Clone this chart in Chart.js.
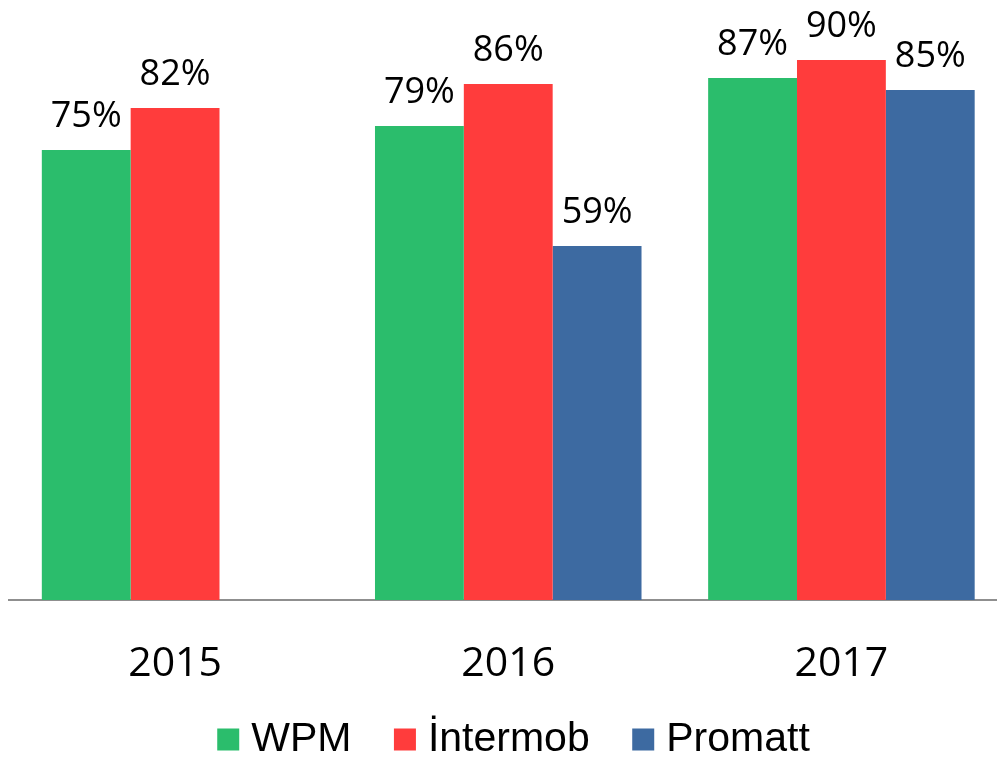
<!DOCTYPE html>
<html>
<head>
<meta charset="utf-8">
<script src="https://cdn.jsdelivr.net/npm/chart.js@4/dist/chart.umd.min.js"></script>
<style>
  html, body { margin: 0; padding: 0; background: #ffffff; overflow: hidden; }
  #wrap { width: 1027px; height: 758px; }
</style>
</head>
<body>
<div id="wrap"><canvas id="c" width="1027" height="758"></canvas></div>
<script>
const categories = ['2015', '2016', '2017'];
const seriesNames = ['WPM', 'İntermob', 'Promatt'];
const wpmValues = [75, 79, 87];
const intermobValues = [82, 86, 90];
const promattValues = [null, 59, 85];
const seriesColors = ['#2bbd6c', '#ff3c3c', '#3d6aa1'];

const labelFont = '"Open Sans", "Noto Sans", sans-serif';

const valueLabels = {
  id: 'valueLabels',
  afterDatasetsDraw(chart) {
    const ctx = chart.ctx;
    ctx.save();
    ctx.font = '36px ' + labelFont;
    ctx.fillStyle = '#000000';
    ctx.textAlign = 'center';
    ctx.textBaseline = 'alphabetic';
    chart.data.datasets.forEach((ds, di) => {
      const meta = chart.getDatasetMeta(di);
      meta.data.forEach((bar, i) => {
        const v = ds.data[i];
        if (v === null || v === undefined) return;
        ctx.fillText(v + '%', bar.x, bar.y - 23.5);
      });
    });
    ctx.restore();
  }
};

new Chart(document.getElementById('c'), {
  type: 'bar',
  data: {
    labels: categories,
    datasets: [
      { label: seriesNames[0], data: wpmValues, backgroundColor: seriesColors[0] },
      { label: seriesNames[1], data: intermobValues, backgroundColor: seriesColors[1] },
      { label: seriesNames[2], data: promattValues, backgroundColor: seriesColors[2] }
    ]
  },
  options: {
    responsive: false,
    devicePixelRatio: 1,
    animation: false,
    layout: { padding: { left: 8.5, right: 0, top: -1, bottom: 0 } },
    datasets: { bar: { categoryPercentage: 0.8, barPercentage: 1.0, borderWidth: 0 } },
    scales: {
      x: {
        grid: { display: false },
        border: { display: true, color: '#8f8f8f', width: 2 },
        ticks: { color: '#000000', font: { family: labelFont, size: 41 }, padding: 32 },
        afterFit(scale) {
          scale.height = 68;
          scale._computeLabelArea = () => null;
        }
      },
      y: {
        display: true,
        position: 'right',
        min: 0,
        max: 100,
        grid: { display: false },
        border: { display: false },
        ticks: { display: false },
        afterFit(scale) { scale.width = 19; }
      }
    },
    plugins: {
      legend: {
        position: 'bottom',
        maxHeight: 90,
        labels: {
          usePointStyle: true,
          pointStyle: 'rect',
          boxWidth: 5,
          boxHeight: 22,
          padding: 51,
          color: '#000000',
          font: { family: '"Liberation Sans", Arial, sans-serif', size: 41 }
        }
      },
      tooltip: { enabled: false }
    }
  },
  plugins: [valueLabels]
});
</script>
</body>
</html>
